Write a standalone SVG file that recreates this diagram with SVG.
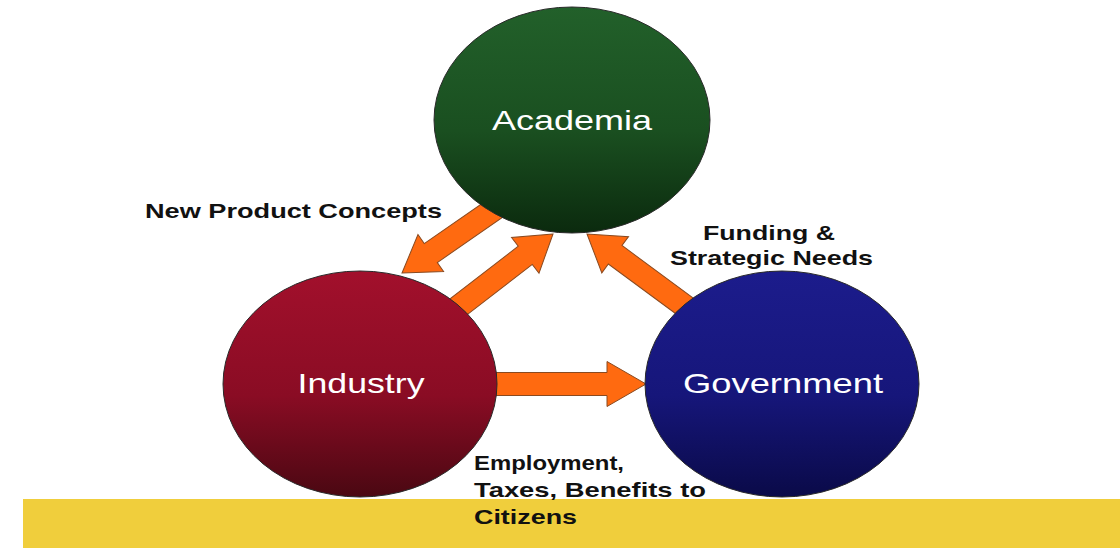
<svg xmlns="http://www.w3.org/2000/svg" width="1120" height="548" viewBox="0 0 1120 548">
<defs>
<linearGradient id="gA" x1="0" y1="0" x2="0" y2="1"><stop offset="0" stop-color="#22602a"/><stop offset="0.55" stop-color="#1a4f20"/><stop offset="1" stop-color="#0b2a0e"/></linearGradient>
<linearGradient id="gI" x1="0" y1="0" x2="0" y2="1"><stop offset="0" stop-color="#a2102c"/><stop offset="0.55" stop-color="#8a0c24"/><stop offset="1" stop-color="#4a0812"/></linearGradient>
<linearGradient id="gG" x1="0" y1="0" x2="0" y2="1"><stop offset="0" stop-color="#1c1c8c"/><stop offset="0.55" stop-color="#16167a"/><stop offset="1" stop-color="#0a0a48"/></linearGradient>
</defs>
<style>
.node{stroke:#2a2a2a;stroke-width:1}
.nl{font-family:"Liberation Sans",Arial,sans-serif;font-size:28px;fill:#ffffff}
.lb{font-family:"Liberation Sans",Arial,sans-serif;font-size:21px;font-weight:bold;fill:#111111}
.arr{fill:#ff6a10;stroke:#8a4a20;stroke-width:1}
</style>
<rect x="0" y="0" width="1120" height="548" fill="#ffffff"/>
<rect id="band" x="23" y="499" width="1097" height="49" fill="#f0ce3c"/>
<g id="connectors">
<path class="arr" transform="translate(402,273) rotate(145.3)" d="M0,0 L-35,-22.5 L-35,-11.5 L-130,-11.5 L-130,11.5 L-35,11.5 L-35,22.5 Z"/>
<path class="arr" transform="translate(553,234) rotate(-37.6)" d="M0,0 L-35,-22.5 L-35,-11.5 L-140,-11.5 L-140,11.5 L-35,11.5 L-35,22.5 Z"/>
<path class="arr" transform="translate(587,234) rotate(-143.6)" d="M0,0 L-35,-22.5 L-35,-11.5 L-150,-11.5 L-150,11.5 L-35,11.5 L-35,22.5 Z"/>
<path class="arr" transform="translate(646,384)" d="M0,0 L-39,-22.5 L-39,-11.5 L-170,-11.5 L-170,11.5 L-39,11.5 L-39,22.5 Z"/>
</g>
<g id="academia">
<ellipse class="node" cx="572" cy="120" rx="138" ry="113" fill="url(#gA)"/>
<text class="nl" x="572" y="130" text-anchor="middle" textLength="160" lengthAdjust="spacingAndGlyphs">Academia</text>
</g>
<g id="industry">
<ellipse class="node" cx="360" cy="384" rx="137" ry="113" fill="url(#gI)"/>
<text class="nl" x="361" y="393" text-anchor="middle" textLength="127" lengthAdjust="spacingAndGlyphs">Industry</text>
</g>
<g id="government">
<ellipse class="node" cx="782" cy="384" rx="137" ry="113" fill="url(#gG)"/>
<text class="nl" x="783" y="393" text-anchor="middle" textLength="200" lengthAdjust="spacingAndGlyphs">Government</text>
</g>
<g id="labels">
<text class="lb" x="145" y="218" textLength="297" lengthAdjust="spacingAndGlyphs">New Product Concepts</text>
<text class="lb" x="703" y="240" textLength="132" lengthAdjust="spacingAndGlyphs">Funding &amp;</text>
<text class="lb" x="670" y="265" textLength="203" lengthAdjust="spacingAndGlyphs">Strategic Needs</text>
<text class="lb" x="474" y="470" textLength="150" lengthAdjust="spacingAndGlyphs">Employment,</text>
<text class="lb" x="474" y="497" textLength="232" lengthAdjust="spacingAndGlyphs">Taxes, Benefits to</text>
<text class="lb" x="474" y="524" textLength="103" lengthAdjust="spacingAndGlyphs">Citizens</text>
</g>
</svg>
